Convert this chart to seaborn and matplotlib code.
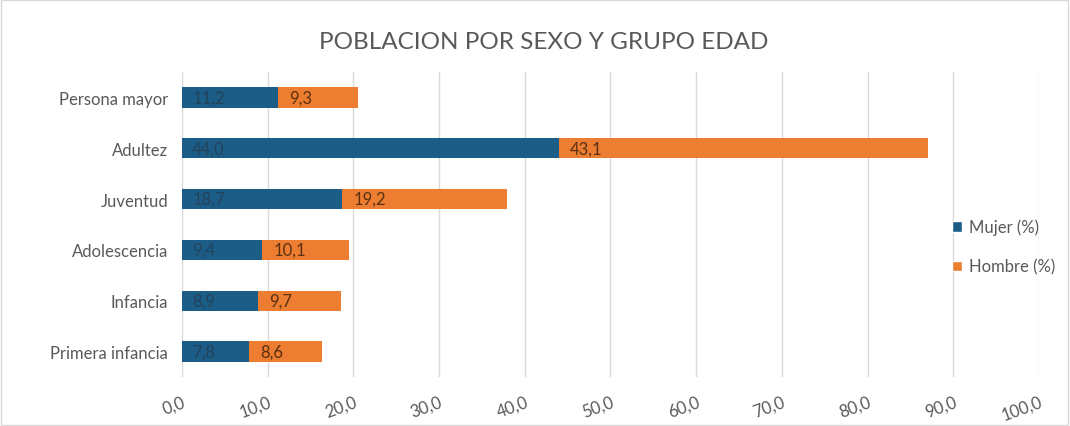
import matplotlib
matplotlib.use("Agg")
import matplotlib.pyplot as plt
from matplotlib.patches import Patch, Rectangle
import seaborn as sns
import pandas as pd

# Population share by sex and age group
grupos = ["Persona mayor", "Adultez", "Juventud", "Adolescencia", "Infancia", "Primera infancia"]
mujer = [11.2, 44.0, 18.7, 9.4, 8.9, 7.8]
hombre = [9.3, 43.1, 19.2, 10.1, 9.7, 8.6]
xticks = [0, 10, 20, 30, 40, 50, 60, 70, 80, 90, 100]

sns.set_theme(style="white")
plt.rcParams["font.family"] = ["Lato", "DejaVu Sans"]

AZUL = "#1c5d88"
NARANJA = "#ed7d31"
GRIS = "#595959"

df = pd.DataFrame({"grupo": grupos, "mujer": mujer, "hombre": hombre})
df["total"] = df["mujer"] + df["hombre"]

fig = plt.figure(figsize=(10.7, 4.27), dpi=100)
ax = fig.add_axes([0.170, 0.115, 0.801, 0.714])

# Stacked horizontal bars: full length in orange, women's share in blue on top
sns.barplot(data=df, y="grupo", x="total", color=NARANJA, orient="h",
            width=0.4, ax=ax, saturation=1, linewidth=0)
sns.barplot(data=df, y="grupo", x="mujer", color=AZUL, orient="h",
            width=0.4, ax=ax, saturation=1, linewidth=0)

for i, (m, h) in enumerate(zip(mujer, hombre)):
    ax.text(1.2, i, f"{m:.1f}".replace(".", ","), va="center", ha="left",
            fontsize=12, color="#22435a")
    ax.text(m + 1.3, i, f"{h:.1f}".replace(".", ","), va="center", ha="left",
            fontsize=12, color="#5a3010")

ax.set_xlim(0, 100)
ax.set_ylim(5.5, -0.5)
ax.set_xticks(xticks)
ax.set_xticklabels([f"{v:.1f}".replace(".", ",") for v in xticks],
                   rotation=20, ha="right", rotation_mode="anchor",
                   color=GRIS, fontsize=12)
ax.tick_params(axis="y", labelsize=12, labelcolor=GRIS, length=0, pad=10)
ax.tick_params(axis="x", length=0, pad=12)
ax.set_xlabel("")
ax.set_ylabel("")
ax.xaxis.grid(True, color="#d9d9d9", linewidth=1)
ax.set_axisbelow(True)
for s in ax.spines.values():
    s.set_visible(False)

fig.text(0.508, 0.9, "POBLACION POR SEXO Y GRUPO EDAD", ha="center", va="center",
         fontsize=17.5, color=GRIS)

handles = [Patch(facecolor=AZUL, label="Mujer (%)"),
           Patch(facecolor=NARANJA, label="Hombre (%)")]
fig.legend(handles=handles, loc="center left", bbox_to_anchor=(0.876, 0.42),
           frameon=False, fontsize=12, labelcolor=GRIS, handlelength=0.6,
           handleheight=0.6, handletextpad=0.4, labelspacing=1.4)

fig.patches.append(Rectangle((0.001, 0.003), 0.997, 0.994, transform=fig.transFigure,
                             fill=False, edgecolor="#d9d9d9", linewidth=1))

fig.savefig("out.png", dpi=100)
